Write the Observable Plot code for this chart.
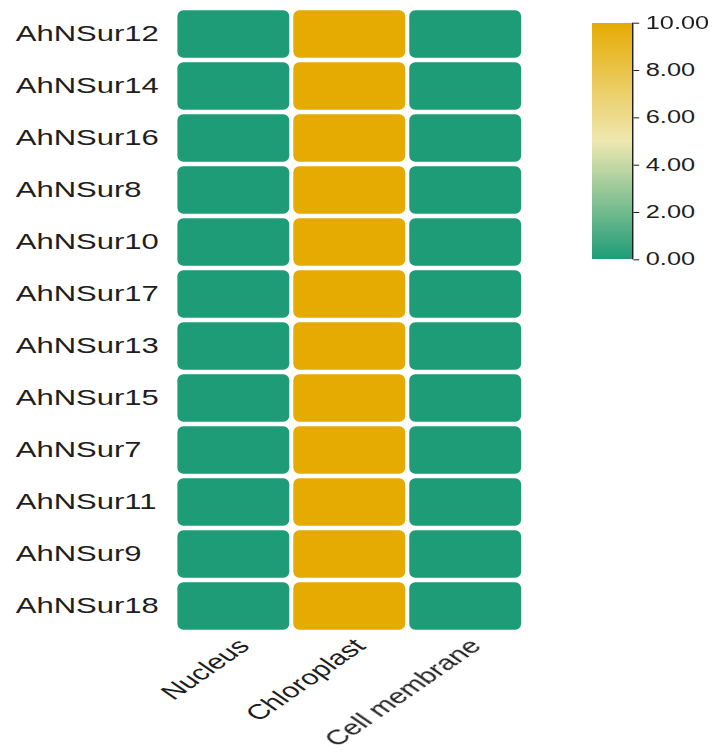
<!DOCTYPE html>
<html><head><meta charset="utf-8">
<script src="https://cdn.jsdelivr.net/npm/d3@7"></script>
<script src="https://cdn.jsdelivr.net/npm/@observablehq/plot@0.6"></script>
<style>
html,body{margin:0;padding:0;background:#fff;overflow:hidden;}
#wrap{position:relative;width:492px;height:756px;transform:scaleX(1.44919);transform-origin:0 0;}
#wrap svg{position:absolute;top:0;}
</style></head><body><div id="wrap"></div>
<script>
const genes = ["AhNSur12","AhNSur14","AhNSur16","AhNSur8","AhNSur10","AhNSur17","AhNSur13","AhNSur15","AhNSur7","AhNSur11","AhNSur9","AhNSur18"];
const locations = ["Nucleus","Chloroplast","Cell membrane"];
const nucleus      = [0,0,0,0,0,0,0,0,0,0,0,0];
const chloroplast  = [10,10,10,10,10,10,10,10,10,10,10,10];
const cellMembrane = [0,0,0,0,0,0,0,0,0,0,0,0];
const legendTicks = [0,2,4,6,8,10];
const colorStops = [0,5,10];
const colorRange = ["#1d9c77","#efe8b0","#e6ab02"];

const series = [nucleus, chloroplast, cellMembrane];
const table = [];
genes.forEach((g,i) => locations.forEach((loc,j) => table.push({gene:g, loc, value: series[j][i]})));

const colorOpts = {type:"linear", domain: colorStops, range: colorRange};
const font = "'Liberation Sans', Arial, sans-serif";

const main = Plot.plot({
  width: 492, height: 756,
  marginLeft: 120, marginRight: 130.6, marginTop: 7.65, marginBottom: 122.95,
  x: {domain: locations, padding: 0, label: null},
  y: {domain: genes, padding: 0, label: null},
  color: colorOpts,
  style: {fontFamily: font, color: "#1e1e1e", background: "white", overflow: "visible"},
  marks: [
    Plot.cell(table, {x: "loc", y: "gene", fill: "value", rx: 4.1, ry: 6,
      insetTop: 2.35, insetBottom: 2.35, insetLeft: 1.4, insetRight: 1.4}),
    Plot.axisY({tickSize: 0, tickPadding: 109.65, textAnchor: "start", fontSize: 21.4, label: null}),
    Plot.axisX({tickSize: 0, tickRotate: -45, tickPadding: 9, dx: 7, fontSize: 21, label: null})
  ]
});
main.style.left = "0px";
document.getElementById("wrap").appendChild(main);

const legendSteps = d3.range(0, 10, 0.05);
const legend = Plot.plot({
  width: 92, height: 280,
  marginLeft: 8.5, marginRight: 55.9, marginTop: 22.7, marginBottom: 20.7,
  x: {domain: [0, 1], axis: null},
  y: {domain: [0, 10], label: null},
  color: colorOpts,
  style: {fontFamily: font, color: "#1e1e1e", background: "transparent", overflow: "visible"},
  marks: [
    Plot.rect(legendSteps, {x1: () => 0, x2: () => 1, y1: d => d, y2: d => Math.min(10, d + 0.1),
      fill: d => d + 0.025, shapeRendering: "crispEdges"}),
    Plot.ruleX([1], {stroke: "#1e1e1e", strokeWidth: 1}),
    Plot.axisY(legendTicks, {anchor: "right", tickSize: 4, tickPadding: 5, tickFormat: d3.format(".2f"), fontSize: 17.5, label: null})
  ]
});
legend.style.left = "400px";
document.getElementById("wrap").appendChild(legend);
</script></body></html>
